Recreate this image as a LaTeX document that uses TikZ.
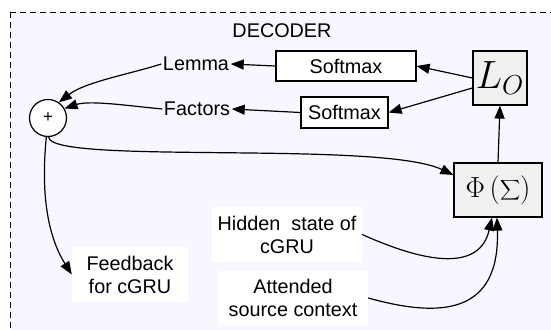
\documentclass[tikz,border=0pt]{standalone}
\usepackage{graphicx}
\usepackage{fontspec}
\setmainfont{Liberation Sans}
\usetikzlibrary{arrows.meta}
\definecolor{bgl}{RGB}{248,246,254}
\definecolor{boxg}{RGB}{239,240,239}
\begin{document}
\begin{tikzpicture}[x=1pt,y=1pt,
  font=\fontsize{19.8}{23}\selectfont,
  arr/.style={line width=1.2pt,-{Triangle[length=13pt,width=10pt]}},
  smbox/.style={draw,line width=1.2pt,fill=white,inner sep=0pt},
  gbox/.style={draw,line width=1.2pt,fill=boxg,inner sep=0pt},
  wbox/.style={fill=white,inner sep=0pt,align=center},
  lbl/.style={inner sep=1.5pt}]
\useasboundingbox (0,0) rectangle (551,-329);
\fill[white] (0,0) rectangle (551,-329);
\draw[line width=0.9pt,fill=bgl,dash pattern=on 6pt off 4pt] (10,-12) rectangle (570,-345);
\node (title) at (282,-31) {DECODER};
\node[smbox,minimum width=140pt,minimum height=30pt] (sm1) at (346,-66) {Softmax};
\node[smbox,minimum width=87pt,minimum height=31pt] (sm2) at (344.5,-112.5) {Softmax};
\node[gbox,minimum width=54pt,minimum height=54pt] (lo) at (500,-78) {\scalebox{1.9}{$L_O$}};
\node[gbox,minimum width=88pt,minimum height=54pt] (phi) at (498,-190) {\scalebox{1.4}{$\Phi\left(\displaystyle\sum\right)$}};
\node[draw,circle,line width=1.2pt,fill=white,minimum size=37pt,inner sep=0pt,font=\fontsize{17}{19}\selectfont] (plus) at (48,-118) {+};
\node[lbl] (lemma) at (196,-64) {Lemma};
\node[lbl] (factors) at (197,-109) {Factors};
\node[wbox,minimum width=116pt,minimum height=55pt] (feed) at (130,-274.5) {Feedback\\for cGRU};
\node[wbox,minimum width=150pt,minimum height=55pt] (hid) at (287,-234.5) {Hidden~ state of\\cGRU};
\node[wbox,minimum width=150pt,minimum height=54pt] (att) at (293,-298) {Attended\\source context};
\coordinate (lo2) at ([yshift=-10pt]lo.west);
\coordinate (phiin) at ([yshift=15pt]phi.west);
\coordinate (phib1) at ([xshift=-6pt]phi.south);
\coordinate (phib2) at ([xshift=-1pt]phi.south);
\draw[arr] (lo.west) -- (sm1.east);
\draw[arr] (lo2) -- (sm2.east);
\draw[arr] (phi.north) -- (lo.south);
\draw[arr] (sm1.west) -- (lemma.east);
\draw[arr] (sm2.west) -- (factors.east);
\draw[arr] (lemma.west) .. controls (130,-74) and (85,-82) .. (plus.55);
\draw[arr] (factors.west) .. controls (130,-106) and (90,-100) .. (plus.30);
\draw[arr] (plus.272) .. controls (50,-165) and (380,-140) .. (phiin);
\draw[arr] (plus.265) .. controls (40,-200) and (50,-240) .. (feed.west);
\draw[arr] (hid.east) .. controls (430,-265) and (480,-270) .. (phib1);
\draw[arr] (att.east) .. controls (440,-318) and (500,-315) .. (phib2);
\end{tikzpicture}
\end{document}
